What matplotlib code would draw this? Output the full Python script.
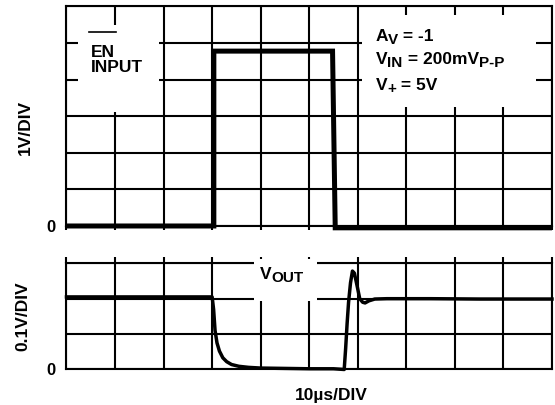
import matplotlib
matplotlib.use("Agg")
import matplotlib.pyplot as plt
from matplotlib.patches import Rectangle

plt.rcParams.update({
    "font.family": ["Liberation Sans", "DejaVu Sans"],
    "font.weight": "bold",
})

# ---- data ----
# EN input, volts vs microseconds
en_t = [0, 30.35, 30.35, 54.8, 55.35, 100]
en_v = [0, 0, 4.78, 4.78, -0.05, -0.05]

# VOUT, volts vs microseconds
vo_t = [0, 30.0, 30.3, 30.6, 31.0, 31.5, 32.2, 33.0, 34.0, 35.5, 37.5, 40, 45, 50, 55,
        57.2, 57.5, 57.8, 58.1, 58.5, 58.9, 59.3, 59.8, 60.4, 61.0, 61.5, 62.3, 63.5,
        66, 75, 85, 100]
vo_v = [0.205, 0.205, 0.17, 0.11, 0.075, 0.052, 0.033, 0.022, 0.014, 0.009, 0.006,
        0.004, 0.003, 0.002, 0.002,
        0.0, 0.06, 0.13, 0.19, 0.245, 0.278, 0.272, 0.24, 0.20, 0.19, 0.188, 0.194, 0.199,
        0.200, 0.200, 0.199, 0.199]

x_ticks = list(range(0, 101, 10))
top_yticks = [0, 1, 2, 3, 4, 5, 6]
bot_yticks = [0, 0.1, 0.2, 0.3]

FS = 12.5
SUB = 0.88 * FS
LW = 1.5


def rich(ax, x, y, parts):
    """parts: list of (text, is_subscript); chained left to right."""
    first = ax.text(x, y, parts[0][0], fontsize=FS, fontweight="bold", zorder=4)
    prev = first
    for s, sub in parts[1:]:
        prev = ax.annotate(s, xy=(1, 0), xycoords=(prev, first),
                           xytext=(0, -2.2 if sub else 0), textcoords="offset points",
                           fontsize=SUB if sub else FS, fontweight="bold",
                           ha="left", va="bottom", zorder=4)
    return first


fig = plt.figure(figsize=(5.55, 4.05), dpi=100)
ax1 = fig.add_axes([0.1198, 0.4420, 0.8748, 0.5420])
ax2 = fig.add_axes([0.1198, 0.0877, 0.8748, 0.2622])

for ax in (ax1, ax2):
    ax.set_xlim(0, 100)
    ax.set_xticks(x_ticks)
    ax.set_xticklabels([""] * len(x_ticks))
    ax.grid(True, color="black", lw=LW)
    for s in ax.spines.values():
        s.set_linewidth(LW)

# top panel
ax1.set_ylim(0, 6)
ax1.set_yticks(top_yticks)
ax1.set_yticklabels(["0"] + [""] * 6, fontsize=12, fontweight="bold")
ax1.tick_params(axis="y", length=0, pad=8)
ax1.tick_params(axis="x", direction="out", length=3, width=LW)
ax1.add_patch(Rectangle((2.4, 3.11), 16.6, 2.38, facecolor="white", edgecolor="none", zorder=2.6))
ax1.add_patch(Rectangle((60.8, 3.25), 36.0, 2.52, facecolor="white", edgecolor="none", zorder=2.6))
ax1.plot(en_t, en_v, color="black", lw=3.6, solid_joinstyle="miter", solid_capstyle="butt",
         clip_on=False, zorder=3)
ax1.text(5.0, 4.62, "EN", fontsize=FS, fontweight="bold", zorder=4)
ax1.plot([4.6, 10.2], [5.30, 5.30], color="black", lw=1.2, zorder=4)
ax1.text(5.0, 4.21, "INPUT", fontsize=FS, fontweight="bold", zorder=4)
rich(ax1, 63.7, 5.06, [("A", False), ("V", True), (" = -1", False)])
rich(ax1, 63.7, 4.43, [("V", False), ("IN", True), (" = 200mV", False), ("P-P", True)])
rich(ax1, 63.7, 3.73, [("V", False), ("+", True), (" = 5V", False)])

# bottom panel
ax2.set_ylim(0, 0.3)
ax2.set_yticks(bot_yticks)
ax2.set_yticklabels(["0", "", "", ""], fontsize=12, fontweight="bold")
ax2.tick_params(axis="y", length=0, pad=8)
ax2.tick_params(axis="x", direction="out", length=4.3, width=LW, top=True, bottom=False)
ax2.add_patch(Rectangle((38.6, 0.193), 13.0, 0.12, facecolor="white", edgecolor="none",
                        zorder=2.6, clip_on=False))
ax2.plot(vo_t, vo_v, color="black", lw=2.5, solid_joinstyle="round", clip_on=False, zorder=3)
rich(ax2, 39.8, 0.257, [("V", False), ("OUT", True)])

fig.text(0.046, 0.685, "1V/DIV", rotation=90, ha="center", va="center", fontsize=FS,
         fontweight="bold")
fig.text(0.0405, 0.2198, "0.1V/DIV", rotation=90, ha="center", va="center", fontsize=FS,
         fontweight="bold")
fig.text(0.597, 0.0123, "10µs/DIV", ha="center", va="baseline", fontsize=FS, fontweight="bold")

fig.savefig("out.png", dpi=100, facecolor="white")
